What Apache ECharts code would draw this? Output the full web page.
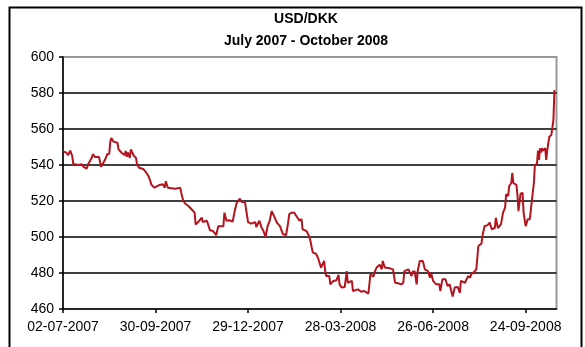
<!DOCTYPE html>
<html><head><meta charset="utf-8">
<script src="https://cdn.jsdelivr.net/npm/echarts@6/dist/echarts.min.js"></script>
<style>html,body{margin:0;padding:0;background:#fff}#c{width:585px;height:347px}</style>
</head><body><div id="c"></div>
<script>
const titleLines = ['USD/DKK', 'July 2007 - October 2008'];
const startDate = '02-07-2007';
const endDate = '24-10-2008';
const tickLabels = ['02-07-2007', '30-09-2007', '29-12-2007', '28-03-2008', '26-06-2008', '24-09-2008'];
const yMin = 460, yMax = 600, yStep = 20;

// days after startDate
const dayOffsets = [
  0, 1, 3, 5, 7, 9, 10, 15, 18, 20, 23, 25, 28, 29, 31, 35, 37, 39, 41, 43,
  45, 46, 47, 49, 53, 54, 57, 60, 61, 62, 63, 65, 66, 69, 71, 72, 74, 78, 81, 83,
  85, 86, 89, 94, 97, 99, 100, 102, 109, 114, 115, 117, 119, 122, 125, 128, 129, 131, 135, 136,
  140, 141, 143, 146, 149, 151, 156, 157, 159, 162, 165, 167, 169, 172, 174, 177, 178, 180, 183, 187,
  188, 191, 193, 195, 197, 199, 201, 203, 204, 206, 208, 211, 214, 217, 219, 220, 222, 225, 227, 230,
  232, 233, 237, 238, 240, 242, 243, 246, 248, 250, 251, 254, 255, 256, 259, 260, 263, 266, 268, 269,
  271, 274, 276, 277, 281, 282, 287, 290, 293, 297, 298, 299, 302, 303, 305, 306, 308, 310, 311, 313,
  318, 321, 323, 326, 329, 331, 332, 336, 337, 339, 340, 342, 344, 345, 347, 350, 352, 355, 357, 358,
  360, 363, 366, 367, 369, 372, 374, 376, 379, 381, 384, 386, 387, 391, 394, 396, 397, 400, 402, 404,
  407, 408, 410, 413, 415, 417, 420, 421, 423, 426, 428, 430, 431, 433, 434, 436, 437, 438, 441, 442,
  443, 445, 447, 448, 450, 452, 454, 456, 458, 459, 461, 462, 463, 464, 465, 466, 467, 469, 470, 471,
  473, 475, 477, 478
];
// USD/DKK x 100
const rates = [
  547.5, 548, 547, 545.5, 548, 545, 540.5, 540, 540.5, 539, 538, 541, 544, 546, 544.5, 544.5, 539, 541, 543, 546,
  546.3, 553, 555, 553, 552.4, 548.7, 546.8, 545.5, 547.8, 544.5, 547, 544, 548.7, 545, 544, 540.4, 538.5, 537.8, 535.7, 533.9,
  531, 529, 527.4, 528.9, 529.3, 527.4, 531, 527.4, 526.8, 527.4, 524.6, 520, 518.5, 517.2, 515.4, 513.5, 507, 508, 510.7, 508.3,
  509, 508.5, 503.7, 503.3, 501, 506, 506, 513.5, 509, 509.3, 508.5, 514.4, 519, 521.3, 519.4, 519.4, 518.5, 508.3, 507.4, 508.3,
  505.5, 509, 505.5, 503.3, 500, 506, 509, 514.4, 514, 510.7, 508, 506, 501.5, 501.1, 508, 512.6, 513.5, 513.5, 511.7, 509,
  510, 504.3, 503.3, 502.4, 499.6, 494, 491.3, 490.7, 488.5, 484.8, 483, 486.7, 481, 478.3, 478.3, 473.7, 475.6, 476, 479, 473.7,
  471.9, 472.2, 481, 474.6, 475.6, 470, 470.9, 469.6, 470, 468.5, 473.7, 479.3, 478, 480.5, 483, 482, 484.6, 482, 486.7, 483,
  482.6, 482, 474.6, 474.3, 473.7, 474.6, 481, 482, 482.6, 478.3, 480.7, 481, 473.7, 481, 486.7, 486.7, 482, 481, 477.4, 480.2,
  475.6, 473.7, 473.7, 470, 476.5, 476.5, 472.8, 473.7, 466.9, 471.9, 472.2, 469, 475.6, 474.6, 478.3, 477.4, 479.3, 480.7, 482, 495,
  496.3, 500.6, 506, 506.6, 508, 504.3, 505, 510.7, 505, 507, 513.5, 516.3, 523.7, 522.8, 528.3, 530, 535.7, 530, 529, 523.7,
  514.4, 524, 524.6, 513.5, 506, 509.8, 509.8, 520, 530, 540, 540.5, 548, 542.8, 549.3, 547, 549.3, 548, 549.3, 542.8, 548.3,
  555.7, 556.7, 565, 581.7
];

function parseDMY(s) {
  const p = s.split('-').map(Number);
  return Date.UTC(p[2], p[1] - 1, p[0]);
}
const DAY = 86400000;
const t0 = parseDMY(startDate);
const tickDays = tickLabels.map(s => Math.round((parseDMY(s) - t0) / DAY));
const maxDay = Math.round((parseDMY(endDate) - t0) / DAY);
const labelByDay = {};
tickDays.forEach((d, i) => { labelByDay[d] = tickLabels[i]; });
const seriesData = dayOffsets.map((d, i) => [d, rates[i]]);

const font = 'Liberation Sans, Arial, sans-serif';
const chart = echarts.init(document.getElementById('c'), null, { renderer: 'canvas' });
chart.setOption({
  animation: false,
  backgroundColor: '#fff',
  graphic: [{
    type: 'rect', left: 7, top: 5, silent: true,
    shape: { width: 572, height: 360 },
    style: { fill: 'none', stroke: '#000', lineWidth: 2 }
  }],
  title: {
    text: titleLines.join('\n'),
    left: 306, top: 8, padding: 0,
    textAlign: 'center',
    textStyle: { fontFamily: font, fontSize: 14, fontWeight: 'bold', color: '#000', lineHeight: 22 }
  },
  grid: {
    left: 63, top: 57, right: 28.5, bottom: 38,
    show: true, borderColor: '#999', borderWidth: 2, backgroundColor: 'transparent'
  },
  xAxis: {
    type: 'value', min: 0, max: maxDay,
    axisLine: { show: true, onZero: false, lineStyle: { color: '#000', width: 1.5 } },
    axisTick: { show: true, length: 4, customValues: tickDays, lineStyle: { color: '#000', width: 1.5 } },
    axisLabel: {
      customValues: tickDays, margin: 11,
      fontFamily: font, fontSize: 14, color: '#000',
      formatter: v => labelByDay[Math.round(v)] || ''
    },
    splitLine: { show: false }
  },
  yAxis: {
    type: 'value', min: yMin, max: yMax, interval: yStep,
    axisLine: { show: true, lineStyle: { color: '#000', width: 1.5 } },
    axisTick: { show: true, length: 4, lineStyle: { color: '#000', width: 1.5 } },
    axisLabel: { margin: 9, fontFamily: font, fontSize: 14, color: '#000' },
    splitLine: { show: true, showMinLine: false, showMaxLine: false, lineStyle: { color: '#000', width: 1.5 } }
  },
  series: [{
    type: 'line', data: seriesData, showSymbol: false, symbol: 'none',
    lineStyle: { color: '#B2151F', width: 2 }, z: 3
  }]
});
</script>
</body></html>
